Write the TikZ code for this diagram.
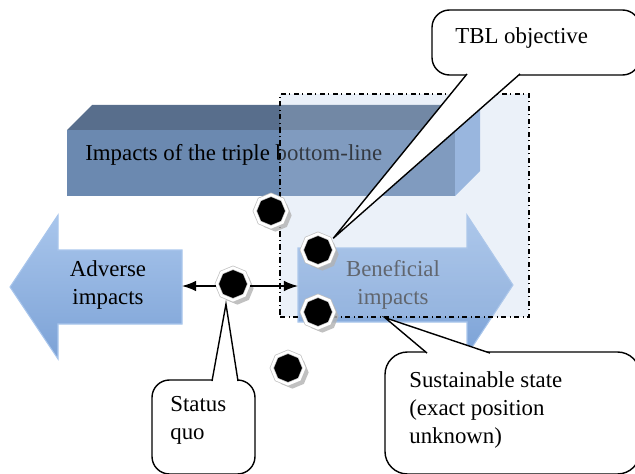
\documentclass[tikz,border=0pt]{standalone}
\usepackage{fontspec}
\setmainfont{Liberation Serif}
\usetikzlibrary{shapes.geometric,shadows,arrows.meta}
\definecolor{boxfront}{HTML}{6B89B0}
\definecolor{boxtop}{HTML}{586E8C}
\definecolor{boxside}{HTML}{8EAEDB}
\definecolor{arrowlight}{HTML}{A9C6EC}
\definecolor{arrowdark}{HTML}{7CA2D6}
\definecolor{regionfill}{HTML}{B8CCE8}
\tikzset{
  octo/.style={regular polygon, regular polygon sides=8, shape border rotate=22.5,
    minimum size=0.65cm, inner sep=0pt, fill=black, draw=gray!50, double=white,
    double distance=1.5pt, line width=0.4pt,
    drop shadow={shadow xshift=2.5pt, shadow yshift=-2.5pt, fill=gray!60, opacity=0.8}},
  bubble/.style={draw, fill=white, rounded corners=0.35cm, line width=0.8pt},
  pointer/.style={draw, fill=white, line width=0.8pt},
  blockarrow/.style={top color=arrowlight, bottom color=arrowdark, draw=arrowlight, line width=0.6pt},
}
\begin{document}
\begin{tikzpicture}[font=\fontsize{13}{16}\selectfont]
\path[use as bounding box, clip] (0,0) rectangle (12.7,9.46);

% triple bottom-line box
\fill[boxtop] (1.34,6.86) -- (1.84,7.36) -- (9.60,7.36) -- (9.10,6.86) -- cycle;
\fill[boxside] (9.10,6.86) -- (9.60,7.36) -- (9.60,6.04) -- (9.10,5.54) -- cycle;
\fill[boxfront] (1.34,5.54) rectangle (9.10,6.86);
\node[anchor=base west, inner sep=0pt] (impacts) at (1.70,6.26) {Impacts of the triple bottom-line};

% block arrows
\path[blockarrow] (0.20,3.72) -- (1.16,5.16) -- (1.16,4.46) -- (3.64,4.46) -- (3.64,2.98) -- (1.16,2.98) -- (1.16,2.28) -- cycle;
\node[align=center] (adverse) at (2.16,3.76) {Adverse\\impacts};
\path[blockarrow] (5.96,4.50) -- (9.34,4.50) -- (9.34,5.16) -- (10.26,3.76) -- (9.34,2.36) -- (9.34,3.02) -- (5.96,3.02) -- cycle;
\node[align=center, text=black!75] (beneficial) at (7.86,3.77) {Beneficial\\impacts};

% sustainable region
\node[draw, dash dot, line width=0.8pt, fill=regionfill, fill opacity=0.28,
  minimum width=4.98cm, minimum height=4.46cm] (sus) at (8.09,5.35) {};

% states
\node[octo] (o1) at (5.42,5.24) {};
\node[octo] (o2) at (6.36,4.46) {};
\node[octo] (o3) at (6.36,3.22) {};
\node[octo] (sq) at (4.66,3.78) {};
\node[octo] (o5) at (5.76,2.10) {};

\coordinate (advend) at (3.64,3.74);
\coordinate (benend) at (5.96,3.74);
\path[draw,line width=0.8pt,->,>={Latex[length=8pt,width=6pt]}] (sq.west |- advend) -- (advend);
\path[draw,line width=0.8pt,->,>={Latex[length=8pt,width=6pt]}] (sq.east |- benend) -- (benend);

% callouts
\node[bubble, minimum width=4.16cm, minimum height=1.30cm] (tbl) at (10.72,8.61) {};
\path[pointer] ([xshift=-1.38cm,yshift=1pt]tbl.south) -- ([xshift=2pt]o2.north east) -- ([xshift=-0.32cm,yshift=1pt]tbl.south);
\node[anchor=north west, inner sep=0pt] (tbltext) at (9.10,8.92) {TBL objective};

\node[bubble, rounded corners=0.45cm, minimum width=5.10cm, minimum height=2.44cm] (sustainable) at (10.25,1.20) {};
\path[pointer] ([xshift=-1.71cm,yshift=-1pt]sustainable.north) -- ([xshift=-0.39cm]sus.south) -- ([xshift=-0.45cm,yshift=-1pt]sustainable.north);
\node[anchor=north west, inner sep=0pt, align=left] (sustext) at (8.18,2.04) {Sustainable state\\(exact position\\unknown)};

\node[bubble, minimum width=2.06cm, minimum height=1.88cm] (status) at (4.07,0.92) {};
\path[pointer] ([xshift=0.17cm,yshift=-1pt]status.north) -- ([xshift=-4pt,yshift=-2pt]sq.south) -- ([xshift=0.69cm,yshift=-1pt]status.north);
\node[anchor=north west, inner sep=0pt, align=left] (statustext) at (3.40,1.54) {Status\\quo};
\end{tikzpicture}
\end{document}
